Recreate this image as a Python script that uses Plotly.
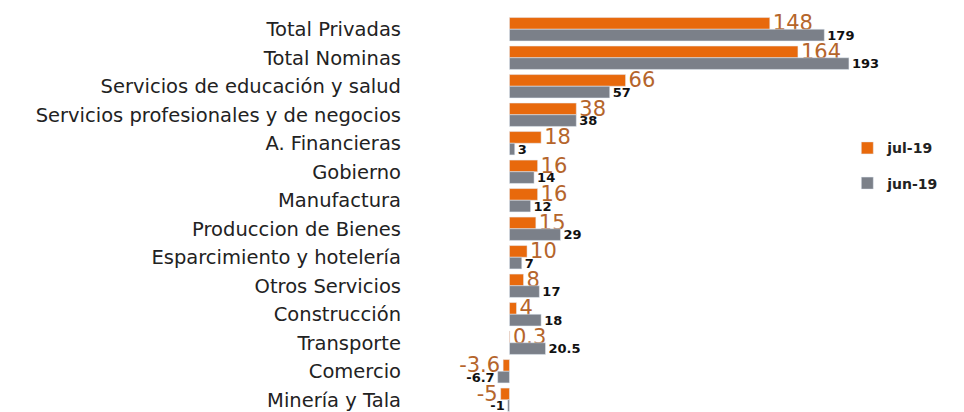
import plotly.graph_objects as go

categories = ["Total Privadas", "Total Nominas", "Servicios de educación y salud",
              "Servicios profesionales y de negocios", "A. Financieras", "Gobierno",
              "Manufactura", "Produccion de Bienes", "Esparcimiento y hotelería",
              "Otros Servicios", "Construcción", "Transporte", "Comercio", "Minería y Tala"]
jul19 = [148, 164, 66, 38, 18, 16, 16, 15, 10, 8, 4, 0.3, -3.6, -5]
jun19 = [179, 193, 57, 38, 3, 14, 12, 29, 7, 17, 18, 20.5, -6.7, -1]
jul_labels = ["148", "164", "66", "38", "18", "16", "16", "15", "10", "8", "4", "0.3", "-3.6", "-5"]
jun_labels = ["179", "193", "57", "38", "3", "14", "12", "29", "7", "17", "18", "20.5", "-6.7", "-1"]

fig = go.Figure()
fig.add_trace(go.Bar(
    y=categories, x=jul19, orientation="h", name="jul-19",
    marker=dict(color="#E8690C"), text=jul_labels, textposition="outside",
    textfont=dict(family="DejaVu Sans", size=21, color="#B5652B"),
    cliponaxis=False, constraintext="none", legendgroup="a"))
fig.add_trace(go.Bar(
    y=categories, x=jun19, orientation="h", name="jun-19",
    marker=dict(color="#7B8089"), text=jun_labels, textposition="outside",
    textfont=dict(family="DejaVu Sans", size=13, color="#111111", weight="bold"),
    cliponaxis=False, constraintext="none", legendgroup="b"))

fig.update_layout(
    width=964, height=412,
    margin=dict(l=410, r=14, t=7, b=6, autoexpand=False),
    paper_bgcolor="white", plot_bgcolor="white",
    barmode="group", bargap=0.18, bargroupgap=0,
    font=dict(family="DejaVu Sans", color="#222222"),
    showlegend=True,
    legend=dict(x=0.795, y=0.706, xanchor="left", yanchor="top",
                font=dict(family="DejaVu Sans", size=14, color="#222222", weight="bold"),
                tracegroupgap=14, itemwidth=30, bgcolor="rgba(0,0,0,0)"),
    xaxis=dict(range=[-52, 255], visible=False, showgrid=False, zeroline=False),
    yaxis=dict(autorange="reversed", showgrid=False, zeroline=False, showline=False,
               ticks="", tickfont=dict(family="DejaVu Sans", size=19.5, color="#222222"),
               ticklabelstandoff=16),
)

fig.write_html("out.html")
